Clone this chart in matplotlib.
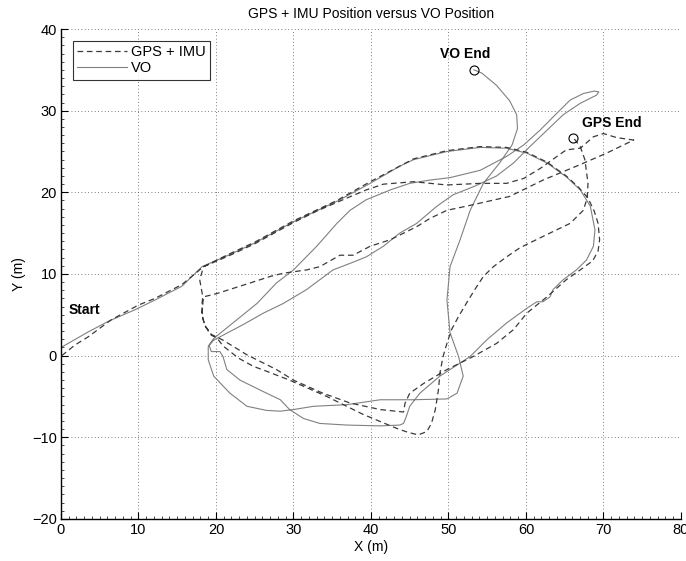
import matplotlib
matplotlib.use('Agg')
import matplotlib.pyplot as plt
from matplotlib.ticker import MultipleLocator

plt.rcParams['font.family'] = ['Liberation Sans', 'DejaVu Sans']

# GPS + IMU track (m), one continuous path
gps_pts = [
  (0.1, 0.0), (1.8, 1.3), (3.5, 2.3), (6.5, 4.4), (10.0, 6.2), (12.1, 7.0), (15.6, 8.7), (18.4, 10.9),
  (21.6, 12.4), (25.0, 13.9), (30.0, 16.5), (35.6, 19.0), (39.9, 21.3), (43.7, 23.2), (45.5, 24.1),
  (49.8, 25.1), (54.1, 25.6), (57.5, 25.5), (60.1, 24.9), (62.7, 23.7), (65.2, 22.0), (66.8, 20.6),
  (68.0, 19.3), (68.8, 17.7), (69.3, 16.2), (69.5, 14.2), (69.3, 12.8), (68.6, 11.6), (67.0, 10.5),
  (65.2, 9.3), (62.7, 7.2), (60.1, 5.2), (58.4, 3.2), (56.2, 1.5), (53.2, -0.1), (49.8, -1.7),
  (46.8, -3.4), (45.0, -4.6), (44.4, -5.8), (44.2, -6.9), (41.2, -6.6), (37.3, -5.8), (33.8, -4.6),
  (30.0, -3.0), (27.8, -1.7), (24.0, 0.1), (20.9, 1.9), (19.4, 2.6), (18.5, 3.8), (18.2, 5.0),
  (18.2, 6.4), (18.3, 7.2), (17.9, 9.3), (18.4, 10.9),
  (21.6, 12.2), (25.0, 13.7), (30.0, 16.3), (33.0, 17.7), (36.4, 19.1), (39.4, 20.3), (41.6, 21.0),
  (45.5, 21.3), (49.8, 20.9), (54.1, 21.1), (57.5, 21.1), (59.7, 21.7), (61.8, 22.9), (64.0, 24.4),
  (65.2, 25.2), (67.0, 25.4), (68.7, 26.8), (70.0, 27.2), (71.7, 26.7), (73.9, 26.4),
  (70.4, 24.8), (67.0, 23.4), (62.2, 21.5), (57.9, 19.5), (52.3, 18.3), (49.8, 17.8), (47.6, 16.8),
  (45.9, 15.8), (44.2, 15.0), (42.5, 14.2), (39.9, 13.4), (37.7, 12.3), (36.0, 12.3), (33.4, 10.9),
  (31.7, 10.5), (28.7, 10.1), (27.0, 9.7), (24.4, 8.9), (20.1, 7.6), (18.4, 7.2),
  (18.3, 6.4), (18.2, 5.0), (18.6, 3.6), (19.4, 2.5), (20.1, 2.2),
  (20.9, 1.2), (22.9, -0.3), (24.8, -1.3), (26.5, -1.9), (29.5, -3.0), (34.3, -5.0), (39.0, -7.2),
  (43.3, -8.9), (44.8, -9.4), (46.1, -9.7), (47.2, -9.3), (47.8, -8.3), (48.3, -6.6), (48.7, -4.2),
  (48.9, -2.1), (49.3, -0.1), (49.8, 1.5), (50.4, 3.2), (51.3, 4.8), (52.3, 6.4), (53.4, 8.1),
  (54.5, 9.7), (55.8, 10.9), (57.5, 12.1), (59.2, 13.2), (60.9, 14.0), (63.5, 15.2), (65.7, 16.2),
  (67.4, 17.8), (67.9, 19.3), (68.0, 21.1), (67.6, 24.0), (67.0, 25.6), (66.1, 26.7),
]
gps_x = [p[0] for p in gps_pts]
gps_y = [p[1] for p in gps_pts]

# visual odometry track (m)
vo_pts = [
  (0.0, 1.0), (3.5, 2.9), (6.1, 4.2), (9.5, 5.6), (12.1, 6.8), (15.6, 8.5), (18.2, 10.9),
  (21.6, 12.3), (25.0, 13.8), (30.0, 16.4), (35.6, 18.9), (39.9, 21.1), (43.7, 23.2), (45.5, 24.0),
  (49.8, 25.0), (54.1, 25.5), (57.5, 25.4), (60.1, 24.8), (62.7, 23.6), (65.2, 21.9), (67.0, 20.3),
  (68.3, 18.3), (68.9, 15.4), (68.7, 13.4), (67.8, 11.7), (66.5, 10.5), (64.8, 9.3), (63.5, 8.1),
  (63.1, 7.2), (62.2, 6.6), (61.4, 6.6), (60.1, 5.8), (57.5, 4.0), (54.9, 1.9), (52.8, -0.1),
  (51.5, -0.9), (48.9, -2.5), (46.3, -4.6), (45.0, -6.2), (44.5, -7.6), (44.2, -8.3), (43.7, -8.5),
  (41.2, -8.6), (36.9, -8.5), (33.4, -8.3), (31.3, -7.7), (29.5, -6.6), (28.3, -5.4), (26.1, -4.4),
  (23.1, -3.0), (21.4, -1.7), (20.9, -0.1), (20.5, 0.5), (19.4, 0.5), (19.1, 1.3), (19.7, 2.1),
  (22.7, 4.4), (25.3, 6.4), (27.8, 8.9), (30.0, 10.5), (33.0, 13.4), (35.6, 16.2), (37.3, 17.8),
  (39.4, 19.1), (42.5, 20.3), (45.0, 21.1), (47.6, 21.5), (50.2, 21.8), (54.1, 22.7), (57.5, 24.4),
  (59.7, 25.8), (61.8, 27.6), (64.0, 29.7), (65.7, 31.3), (67.4, 32.1), (68.8, 32.4), (69.4, 32.3),
  (69.1, 31.9), (67.0, 30.9), (64.8, 29.5), (62.7, 27.6), (60.5, 25.6), (58.4, 23.6), (56.2, 22.0),
  (53.5, 20.8), (50.6, 19.7), (48.5, 18.3), (45.9, 16.2), (43.7, 15.0), (41.6, 13.4), (39.4, 12.1),
  (37.3, 11.3), (35.1, 10.5), (31.7, 8.1), (28.7, 6.4), (26.1, 5.2), (23.5, 3.8), (20.5, 2.3),
  (19.7, 1.9), (19.0, 1.1), (19.0, -0.5), (19.7, -2.5), (21.8, -4.6), (24.0, -6.2), (26.5, -6.7),
  (28.3, -6.8), (30.0, -6.6), (32.6, -6.2), (36.9, -6.0), (41.2, -5.4), (45.5, -5.4), (49.8, -5.3),
  (51.1, -4.6), (51.9, -2.5), (51.3, -0.1), (50.2, 2.8), (49.8, 6.8), (50.2, 10.9), (51.5, 14.2),
  (52.8, 17.8), (54.5, 21.1), (56.6, 23.6), (58.2, 25.8), (58.9, 27.8), (58.8, 29.5), (57.9, 31.2),
  (56.2, 33.1), (54.3, 34.6), (53.3, 35.0),
]
vo_x = [p[0] for p in vo_pts]
vo_y = [p[1] for p in vo_pts]

x_ticks = [0, 10, 20, 30, 40, 50, 60, 70, 80]
y_ticks = [-20, -10, 0, 10, 20, 30, 40]

fig = plt.figure(figsize=(6.86, 5.61), dpi=100)
ax = fig.add_axes([0.0889, 0.0749, 0.9038, 0.8734])

ax.plot(gps_x, gps_y, color='#3a3a3a', lw=0.9, dashes=(4.5, 3.0), label='GPS + IMU', zorder=3)
ax.plot(vo_x, vo_y, color='#808080', lw=0.8, label='VO', zorder=2)

# end markers + labels
ax.plot([vo_x[-1]], [vo_y[-1]], 'o', mfc='none', mec='black', ms=6.5, mew=0.8, zorder=4)
ax.plot([gps_x[-1]], [gps_y[-1]], 'o', mfc='none', mec='black', ms=6.5, mew=0.8, zorder=4)
ax.text(52.2, 36.9, 'VO End', fontsize=10, fontweight='bold', ha='center', va='center')
ax.text(71.1, 28.5, 'GPS End', fontsize=10, fontweight='bold', ha='center', va='center')
ax.text(1.0, 5.6, 'Start', fontsize=10, fontweight='bold', ha='left', va='center')

ax.set_xlim(0, 80)
ax.set_ylim(-20, 40)
ax.set_xticks(x_ticks)
ax.set_yticks(y_ticks)
ax.set_yticklabels(['\u221220', '\u221210', '0', '10', '20', '30', '40'])
ax.xaxis.set_minor_locator(MultipleLocator(1))
ax.yaxis.set_minor_locator(MultipleLocator(1))
ax.tick_params(which='major', direction='in', length=5, width=0.8, labelsize=10.5, pad=3)
ax.tick_params(which='minor', direction='in', length=2, width=0.5)
ax.grid(True, which='major', color='#555555', ls=(0, (1, 3)), lw=0.6)
for s in ('top', 'right'):
  ax.spines[s].set_visible(False)
for s in ('left', 'bottom'):
  ax.spines[s].set_linewidth(1.0)

ax.set_xlabel('X (m)', fontsize=10, labelpad=2)
ax.set_ylabel('Y (m)', fontsize=10, labelpad=4)
ax.set_title('GPS + IMU Position versus VO Position', fontsize=10, pad=8)

leg = ax.legend(loc='upper left', fontsize=10.5, frameon=True, fancybox=False,
                edgecolor='black', borderpad=0.3, handlelength=3.4, labelspacing=0.15,
                borderaxespad=0.8, handletextpad=0.3)
leg.get_frame().set_linewidth(0.8)

fig.savefig('out.png', dpi=100)
